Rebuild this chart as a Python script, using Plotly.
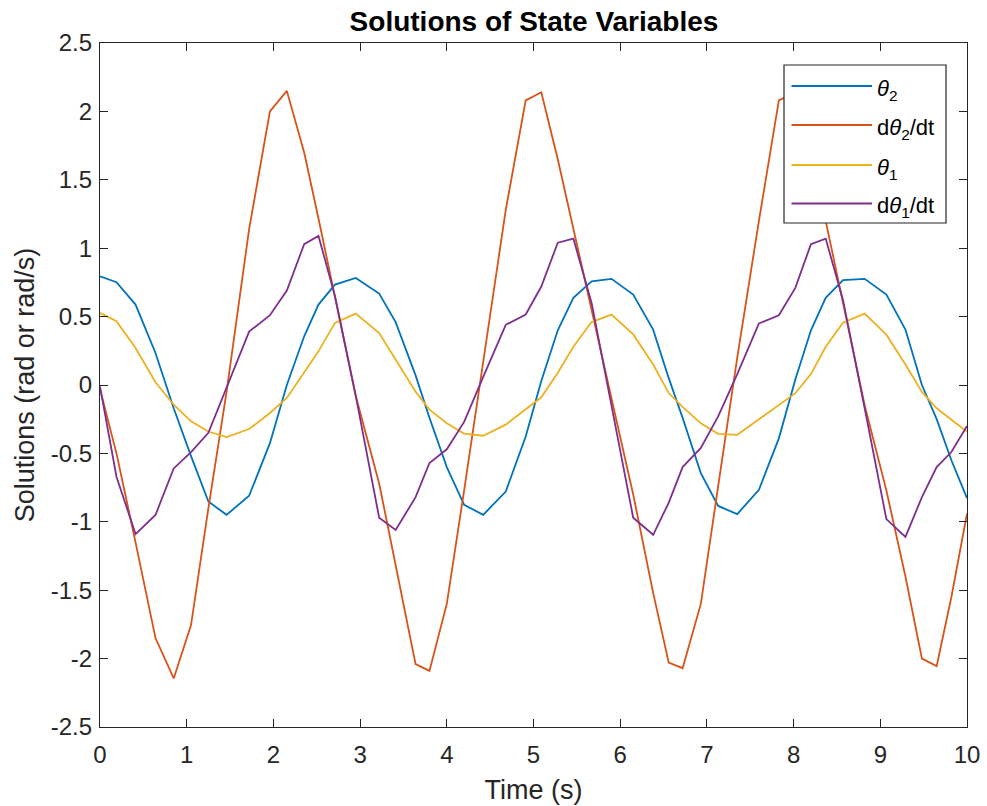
import plotly.graph_objects as go

time = [0, 0.19, 0.41, 0.64, 0.85, 1.05, 1.25, 1.46, 1.72, 1.96, 2.155, 2.355, 2.52, 2.71, 2.95,
        3.22, 3.41, 3.64, 3.80, 4.0, 4.2, 4.42, 4.68, 4.91, 5.09, 5.28, 5.46, 5.67, 5.90, 6.15,
        6.38, 6.56, 6.72, 6.93, 7.13, 7.35, 7.60, 7.83, 8.02, 8.20, 8.37, 8.57, 8.82, 9.07, 9.29,
        9.48, 9.65, 9.82, 10.0]

theta2 = [0.795, 0.751, 0.588, 0.234, -0.17, -0.52, -0.852, -0.949, -0.81, -0.425, 0.0, 0.356,
          0.588, 0.734, 0.783, 0.668, 0.46, 0.07, -0.24, -0.6, -0.876, -0.949, -0.779, -0.376,
          0.03, 0.40, 0.637, 0.758, 0.776, 0.661, 0.405, 0.05, -0.24, -0.644, -0.884, -0.944,
          -0.766, -0.39, 0.04, 0.40, 0.637, 0.766, 0.776, 0.661, 0.405, 0.0, -0.25, -0.55, -0.827]

dtheta2 = [-0.03, -0.5, -1.15, -1.85, -2.145, -1.755, -0.9, -0.05, 1.14, 2.0, 2.15, 1.70, 1.217,
           0.64, -0.08, -0.72, -1.33, -2.04, -2.09, -1.6, -0.77, 0.17, 1.28, 2.08, 2.14, 1.65,
           1.15, 0.55, -0.1, -0.8, -1.52, -2.03, -2.07, -1.6, -0.74, 0.2, 1.2, 2.08, 2.14, 1.7,
           1.2, 0.6, -0.15, -0.77, -1.4, -2.0, -2.055, -1.55, -0.94]

theta1 = [0.527, 0.466, 0.271, 0.02, -0.144, -0.266, -0.34, -0.381, -0.322, -0.205, -0.095,
          0.088, 0.246, 0.454, 0.522, 0.38, 0.185, -0.05, -0.18, -0.28, -0.355, -0.371, -0.29,
          -0.18, -0.09, 0.09, 0.28, 0.46, 0.515, 0.37, 0.15, -0.059, -0.16, -0.28, -0.357,
          -0.364, -0.25, -0.15, -0.06, 0.08, 0.28, 0.455, 0.522, 0.368, 0.15, -0.05, -0.17,
          -0.254, -0.34]

dtheta1 = [-0.01, -0.67, -1.09, -0.95, -0.61, -0.49, -0.35, -0.02, 0.39, 0.51, 0.69, 1.03, 1.09,
           0.65, -0.08, -0.97, -1.06, -0.82, -0.57, -0.47, -0.27, 0.06, 0.44, 0.515, 0.72, 1.04,
           1.07, 0.6, -0.14, -0.97, -1.095, -0.86, -0.6, -0.46, -0.23, 0.08, 0.45, 0.51, 0.71,
           1.03, 1.07, 0.62, -0.17, -0.98, -1.11, -0.82, -0.6, -0.49, -0.30]

series_names = ["<i>θ</i><sub>2</sub>", "d<i>θ</i><sub>2</sub>/dt",
                "<i>θ</i><sub>1</sub>", "d<i>θ</i><sub>1</sub>/dt"]
series_values = [theta2, dtheta2, theta1, dtheta1]
colors = ["#0072BD", "#D95319", "#EDB120", "#7E2F8E"]

x_ticks = list(range(0, 11))
x_ticktext = [str(v) for v in x_ticks]
y_ticks = [-2.5, -2, -1.5, -1, -0.5, 0, 0.5, 1, 1.5, 2, 2.5]
y_ticktext = ["-2.5", "-2", "-1.5", "-1", "-0.5", "0", "0.5", "1", "1.5", "2", "2.5"]

FONT = "Arial, 'Liberation Sans', Helvetica, sans-serif"
AX = "#262626"

fig = go.Figure()
for name, vals, c in zip(series_names, series_values, colors):
    fig.add_trace(go.Scatter(x=time, y=vals, mode="lines", name=name,
                             line=dict(color=c, width=1.8), showlegend=False))

W, H = 987, 806
ml, mr, mt, mb = 100, 20, 43, 79
pw, ph = W - ml - mr, H - mt - mb


def px(X):
    return (X - ml) / pw


def py(Y):
    return (H - mb - Y) / ph


shapes = []
annotations = []
# manual legend box
shapes.append(dict(type="rect", xref="paper", yref="paper",
                   x0=px(784), x1=px(946), y0=py(223), y1=py(65),
                   line=dict(color=AX, width=1.2), fillcolor="white", layer="above"))
rows = [86, 125, 165, 203.5]
for name, c, Y in zip(series_names, colors, rows):
    shapes.append(dict(type="line", xref="paper", yref="paper",
                       x0=px(791.5), x1=px(872), y0=py(Y), y1=py(Y),
                       line=dict(color=c, width=1.8), layer="above"))
    annotations.append(dict(text=name, xref="paper", yref="paper", x=px(875), y=py(Y + 4),
                            xanchor="left", yanchor="middle", showarrow=False,
                            font=dict(family=FONT, size=22, color="black")))

fig.update_layout(
    width=W, height=H,
    margin=dict(l=ml, r=mr, t=mt, b=mb, autoexpand=False),
    paper_bgcolor="white", plot_bgcolor="white",
    font=dict(family=FONT, color=AX),
    title=dict(text="<b>Solutions of State Variables</b>", x=px(534), xref="paper", xanchor="center",
               y=1 - 21 / H, yanchor="middle", yref="container",
               font=dict(family=FONT, size=28, color="black")),
    shapes=shapes, annotations=annotations,
    showlegend=False,
)
fig.update_xaxes(range=[0, 10], tickvals=x_ticks, ticktext=x_ticktext, automargin=False,
                 showgrid=False, zeroline=False, showline=True, linecolor=AX, linewidth=1.3,
                 mirror="ticks", ticks="inside", ticklen=8, tickcolor=AX, tickwidth=1.3,
                 tickfont=dict(family=FONT, size=24, color=AX), ticklabelstandoff=6,
                 title=dict(text="Time (s)", font=dict(family=FONT, size=27, color=AX), standoff=13))
fig.update_yaxes(range=[-2.5, 2.5], tickvals=y_ticks, ticktext=y_ticktext, automargin=False,
                 showgrid=False, zeroline=False, showline=True, linecolor=AX, linewidth=1.3,
                 mirror="ticks", ticks="inside", ticklen=8, tickcolor=AX, tickwidth=1.3,
                 tickfont=dict(family=FONT, size=24, color=AX), ticklabelstandoff=2,
                 title=dict(text="Solutions (rad or rad/s)", font=dict(family=FONT, size=27, color=AX),
                            standoff=8))

fig.write_html("out.html", config={"displayModeBar": False},
               post_script="document.body.style.margin='0px';")
